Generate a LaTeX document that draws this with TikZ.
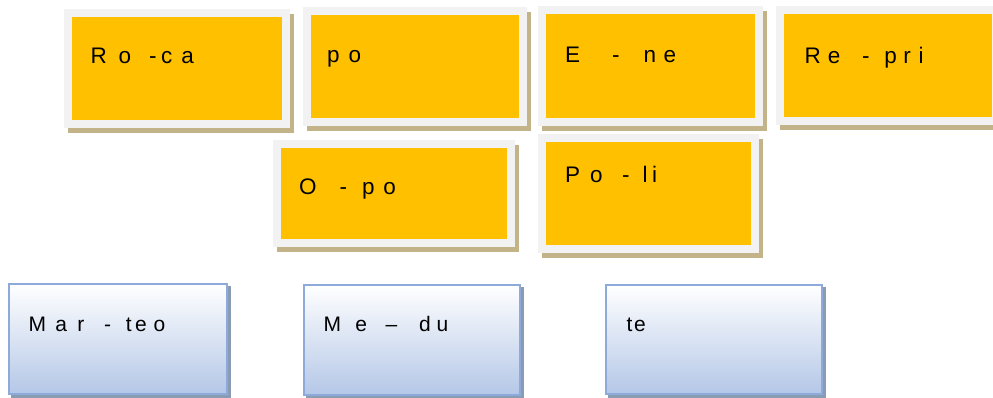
\documentclass[tikz,border=0pt]{standalone}
\usepackage{fontspec}
\setmainfont{Liberation Sans}
\usetikzlibrary{backgrounds,calc}
\definecolor{yfill}{HTML}{FFC000}
\definecolor{yrim}{HTML}{F2F2F2}
\definecolor{yshadow}{HTML}{C2B488}
\definecolor{bline}{HTML}{8EAADB}
\definecolor{bbot}{HTML}{B4C7E7}
\definecolor{bshadow}{HTML}{8A9BB4}
\newcommand\gp[1]{\hspace{#1pt}}
\tikzset{
  ybox/.style={draw=yrim, line width=8pt, fill=yfill, inner sep=0pt},
  bbox/.style={draw=bline, line width=2pt, top color=white, bottom color=bbot, inner sep=0pt},
  lbl/.style={anchor=base west, inner sep=0pt, font=\fontsize{22.5}{26}\selectfont, text=black},
  blbl/.style={lbl, font=\fontsize{21}{25}\selectfont}
}
\begin{document}
\begin{tikzpicture}[x=1pt,y=1pt]
\useasboundingbox (0,0) rectangle (993,397);
% yellow boxes
\node[ybox, minimum width=218pt, minimum height=111pt] (A) at (177,328.5) {};
\node[ybox, minimum width=216pt, minimum height=111pt] (B) at (415,330.5) {};
\node[ybox, minimum width=217pt, minimum height=112pt] (C) at (650.5,331) {};
\node[ybox, minimum width=216pt, minimum height=111pt] (D) at (888,331.5) {};
\node[ybox, minimum width=234pt, minimum height=99pt] (E) at (394,203.5) {};
\node[ybox, minimum width=213pt, minimum height=111pt] (F) at (648.5,203.5) {};
% blue boxes
\node[bbox, minimum width=218pt, minimum height=110pt] (G) at (118,58) {};
\node[bbox, minimum width=216pt, minimum height=110pt] (H) at (412,57) {};
\node[bbox, minimum width=216pt, minimum height=109pt] (I) at (714,57.5) {};
\begin{pgfonlayer}{background}
\foreach \n in {A,B,C,D,E,F}
  \fill[yshadow] ([shift={(4pt,-5pt)}]\n.north west) rectangle ([shift={(4pt,-5pt)}]\n.south east);
\foreach \n in {G,H,I}
  \fill[bshadow] ([shift={(3pt,-3pt)}]\n.north west) rectangle ([shift={(3pt,-3pt)}]\n.south east);
\end{pgfonlayer}
% labels
\node[lbl] (tA) at (90.3,333.7) {R\gp{12}o\gp{18}-\gp{4.5}c\gp{9}a};
\node[lbl] (tB) at (327,334.5) {p\gp{9}o};
\node[lbl] (tC) at (565,334.3) {E\gp{32}-\gp{24}n\gp{7.4}e};
\node[lbl] (tD) at (804.3,333.7) {R\gp{7}e\gp{22}-\gp{14.5}p\gp{6.5}r\gp{8}i};
\node[lbl] (tE) at (298.9,203) {O\gp{23}-\gp{15}p\gp{8.8}o};
\node[lbl] (tF) at (565,214.3) {P\gp{10}o\gp{19.5}-\gp{12.8}l\gp{4.5}i};
\node[blbl] (tG) at (28.4,65.3) {M\gp{9.2}a\gp{10.5}r\gp{19.6}-\gp{14.8}t\gp{3.5}e\gp{6.8}o};
\node[blbl] (tH) at (323.4,65.3) {M\gp{14.2}e\gp{18.6}–\gp{22}d\gp{5.6}u};
\node[blbl] (tI) at (626.3,66) {t\gp{1.8}e};
\end{tikzpicture}
\end{document}
